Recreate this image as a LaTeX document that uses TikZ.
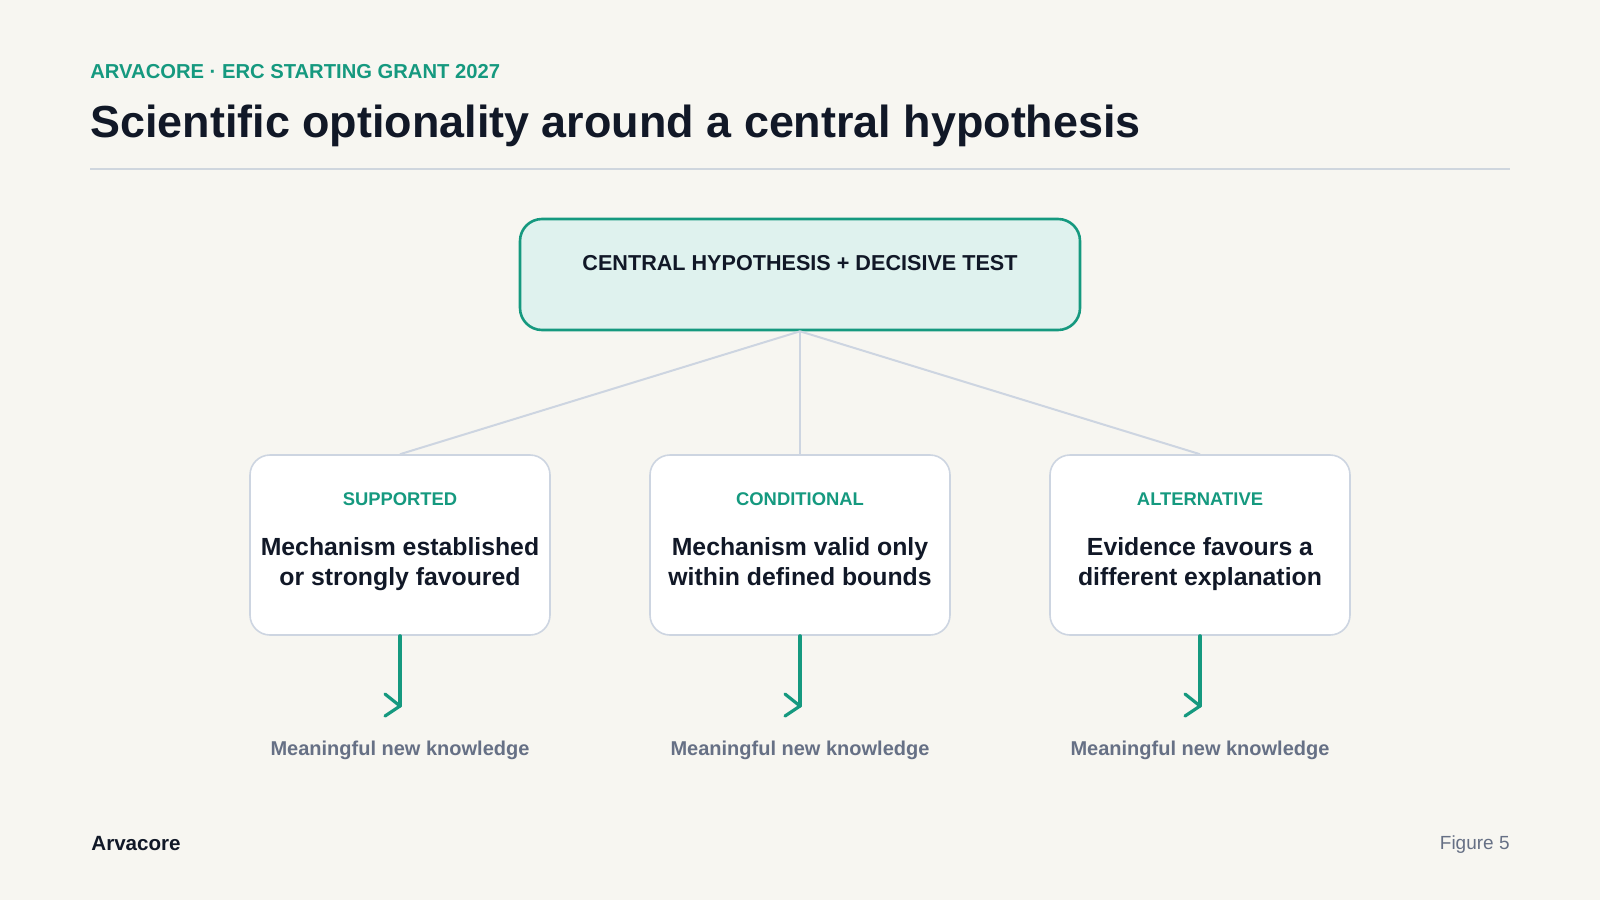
\documentclass[tikz,border=0pt]{standalone}
\usepackage{fontspec}
\setmainfont{Liberation Sans}
\definecolor{bgc}{HTML}{F7F6F1}
\definecolor{teal}{HTML}{15997F}
\definecolor{navy}{HTML}{111827}
\definecolor{greyt}{HTML}{667085}
\definecolor{rulec}{HTML}{CFD6DE}
\definecolor{boxline}{HTML}{CDD5E1}
\definecolor{cfill}{HTML}{DFF2EE}
\tikzset{
  outcome/.style={draw=boxline, line width=0.8pt, fill=white, rounded corners=10pt,
    minimum width=150pt, minimum height=90pt, inner sep=0pt},
  centralbox/.style={draw=teal, line width=1.3pt, fill=cfill, rounded corners=11pt,
    minimum width=280pt, minimum height=55.5pt, inner sep=0pt},
  conn/.style={draw=boxline, line width=1pt},
  flow/.style={draw=teal, line width=1.6pt, line cap=round, line join=round},
  tag/.style={anchor=base, text=teal, font=\fontsize{9.2pt}{11pt}\selectfont\bfseries},
  body/.style={anchor=base, text=navy, font=\fontsize{12.4pt}{14.8pt}\selectfont\bfseries, align=center},
  result/.style={anchor=base, text=greyt, font=\fontsize{10pt}{12pt}\selectfont\bfseries},
}
\begin{document}
\begin{tikzpicture}[x=0.5pt,y=-0.5pt]
\fill[bgc] (0,0) rectangle (1600,900);
\useasboundingbox (0,0) rectangle (1600,900);
% header
\node[anchor=base west, inner sep=0, text=teal, font=\fontsize{10.1pt}{12pt}\selectfont\bfseries] (kicker) at (90,78) {ARVACORE · ERC STARTING GRANT 2027};
\node[anchor=base west, inner sep=0, text=navy, font=\fontsize{22.45pt}{27pt}\selectfont\bfseries] (title) at (90,137) {Scientific optionality around a central hypothesis};
\draw[rulec, line width=0.7pt] (90,169) -- (1510,169);
% central
\node[centralbox] (central) at (800,274.5) {};
\node[anchor=base, text=navy, font=\fontsize{10.8pt}{13pt}\selectfont\bfseries] (ctext) at (800,270) {CENTRAL HYPOTHESIS + DECISIVE TEST};
% outcome boxes
\node[outcome] (sup) at (400,545) {};
\node[outcome] (con) at (800,545) {};
\node[outcome] (alt) at (1200,545) {};
\draw[conn] (central.south) -- (sup.north);
\draw[conn] (central.south) -- (con.north);
\draw[conn] (central.south) -- (alt.north);
% texts
\node[tag] (supt) at (400,505) {SUPPORTED};
\node[tag] (cont) at (800,505) {CONDITIONAL};
\node[tag] (altt) at (1200,505) {ALTERNATIVE};
\node[body] (supb) at (400,585) {Mechanism established\\or strongly favoured};
\node[body] (conb) at (800,585) {Mechanism valid only\\within defined bounds};
\node[body] (altb) at (1200,585) {Evidence favours a\\different explanation};
% arrows
\foreach \n/\x in {sup/400,con/800,alt/1200}{
  \coordinate (\n tip) at (\x,706);
  \draw[flow] (\n.south) -- (\n tip);
  \draw[flow] ([xshift=-7.5pt,yshift=6pt]\n tip) -- (\n tip) -- ([xshift=-7.5pt,yshift=-5pt]\n tip);
  \node[result] (\n r) at (\x,755) {Meaningful new knowledge};
}
% footer
\node[anchor=base west, inner sep=0, text=navy, font=\fontsize{10.3pt}{12pt}\selectfont\bfseries] (brand) at (91,850) {Arvacore};
\node[anchor=base east, inner sep=0, text=greyt, font=\fontsize{9.5pt}{12pt}\selectfont] (fig) at (1510,849) {Figure 5};
\end{tikzpicture}
\end{document}
